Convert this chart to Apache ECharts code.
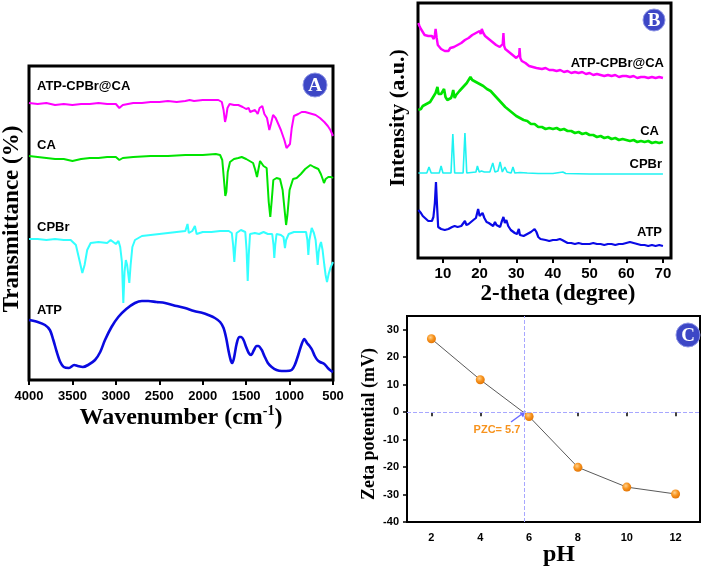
<!DOCTYPE html>
<html><head><meta charset="utf-8">
<script src="https://cdn.jsdelivr.net/npm/echarts@6/dist/echarts.min.js"></script>
<style>html,body{margin:0;padding:0;background:#fff}#c{width:707px;height:571px}</style>
</head><body><div id="c"></div><script>
// ---------- Panel A : FTIR (wavenumber, offset transmittance a.u.) ----------
const ftirTicks = [4000,3500,3000,2500,2000,1500,1000,500];
const ftirAtpCpbrCa = [[4000,277],[3900,276],[3800,277],[3700,275],[3600,276],[3500,275],[3400,276],[3300,276],[3200,277],[3100,276],[3000,276],[2960,272],[2920,275],[2800,277],[2700,277],[2600,278],[2500,278],[2400,279],[2300,278],[2200,279],[2150,280],[2100,279],[2000,280],[1900,280],[1820,280],[1780,278],[1760,270],[1743,258],[1730,263],[1715,272],[1690,276],[1640,275],[1590,275],[1540,273],[1500,271],[1470,272],[1455,268],[1436,268],[1398,270],[1367,266],[1345,272],[1314,274],[1290,266],[1260,262],[1233,250],[1215,256],[1190,265],[1160,262],[1140,260],[1100,250],[1060,240],[1035,232],[1014,230],[995,236],[975,252],[950,264],[900,266],[860,268],[820,268],[780,267],[740,266],[700,265],[650,262],[600,258],[560,254],[530,250],[500,244]];
const ftirCA = [[4000,224],[3900,223],[3800,222],[3700,221],[3600,221],[3500,219],[3400,221],[3300,222],[3200,222],[3100,223],[3000,223],[2960,220],[2920,222],[2800,223],[2600,224],[2400,224],[2200,225],[2000,225],[1850,226],[1800,225],[1775,220],[1755,200],[1740,184],[1728,188],[1712,208],[1686,218],[1640,221],[1590,222],[1551,223],[1500,221],[1420,217],[1395,210],[1375,203],[1360,210],[1340,219],[1321,219],[1300,214],[1264,212],[1240,178],[1222,163],[1205,180],[1187,200],[1150,202],[1110,201],[1080,190],[1055,168],[1040,155],[1025,165],[1000,190],[960,201],[918,202],[900,200],[870,206],[820,211],[760,215],[720,213],[669,211],[640,206],[615,200],[604,197],[585,201],[554,203],[520,203],[500,202]];
const ftirCPBr = [[4000,141],[3900,141],[3800,140],[3700,141],[3600,140],[3520,140],[3460,135],[3420,120],[3386,107],[3360,115],[3330,130],[3290,137],[3200,138],[3100,137],[3060,140],[3000,136],[2970,139],[2950,133],[2930,118],[2914,77],[2900,108],[2885,120],[2870,115],[2845,97],[2830,115],[2810,133],[2780,140],[2700,144],[2600,145],[2500,146],[2400,147],[2300,148],[2200,149],[2175,156],[2160,147],[2120,149],[2090,154],[2070,146],[2000,148],[1900,148],[1800,149],[1700,149],[1665,147],[1650,135],[1636,118],[1625,132],[1610,147],[1560,150],[1510,148],[1495,130],[1482,99],[1470,125],[1455,146],[1400,147],[1350,146],[1300,148],[1250,146],[1200,146],[1185,135],[1176,122],[1165,135],[1150,146],[1100,145],[1070,143],[1053,132],[1040,140],[1010,146],[950,148],[900,148],[860,148],[842,150],[810,148],[795,140],[784,125],[772,140],[745,152],[720,147],[700,140],[685,125],[676,115],[665,128],[650,135],[638,138],[620,130],[600,115],[585,105],[569,98],[550,106],[530,112],[515,113],[500,118]];
const ftirATP = [[4000,60],[3900,58],[3816,55],[3760,50],[3720,40],[3680,28],[3640,18],[3600,13],[3540,12],[3480,15],[3440,14],[3380,13],[3320,15],[3240,20],[3180,28],[3125,40],[3050,53],[2972,63],[2880,71],[2780,77],[2700,79],[2627,79],[2534,78],[2434,77],[2300,74],[2204,72],[2100,69],[2000,67],[1936,65],[1860,62],[1800,58],[1760,52],[1730,42],[1700,28],[1675,19],[1659,17],[1640,22],[1610,36],[1580,43],[1559,43],[1530,40],[1500,33],[1470,27],[1444,25],[1410,30],[1380,34],[1360,34],[1320,30],[1290,24],[1250,17],[1206,13],[1150,10],[1091,9],[1040,9],[976,10],[940,15],[900,25],[860,36],[830,41],[800,37],[770,34],[740,30],[710,24],[680,20],[650,18],[600,16],[560,12],[520,9],[500,8]];

// ---------- Panel B : XRD (2-theta, offset intensity a.u.) ----------
const xrdTicks = [10,20,30,40,50,60,70];
const xrdAtpCpbrCa = [[3.3,235],[3.6,232],[4,229],[4.5,226],[5,223],[5.5,221],[6,222],[6.5,220],[7,222],[7.5,219],[7.8,223],[8,229],[8.3,220],[8.6,213],[9,211],[9.5,209],[10,210],[10.5,207],[11,209],[11.5,207],[12,210],[12.5,208],[13,211],[13.5,209],[14,213],[14.5,211],[15,215],[15.5,213],[16,218],[16.5,216],[17,220],[17.5,219],[18,223],[18.5,221],[19,225],[19.5,223],[20,227],[20.3,224],[20.6,229],[21,225],[21.5,222],[22,223],[22.5,219],[23,220],[23.5,216],[24,217],[24.5,213],[25,214],[25.5,211],[26,212],[26.3,214],[26.5,225],[26.7,212],[27,209],[27.5,208],[28,206],[28.5,205],[29,203],[29.5,203],[30,200],[30.5,201],[30.8,203],[30.9,210],[31.1,200],[31.5,197],[32,197],[32.5,195],[33,195],[33.5,192],[34,193],[34.5,191],[35,192],[35.5,190],[36,191],[37,189],[38,190],[39,188],[40,188],[41,187],[42,188],[43,186],[44,187],[45,185],[46,186],[47,185],[48,186],[49,184],[50,185],[51,183],[52,184],[53,183],[54,182],[55,183],[56,182],[57,183],[58,181],[59,182],[60,182],[61,181],[62,182],[63,180],[64,181],[65,181],[66,180],[67,181],[68,180],[69,181],[70,180]];
const xrdCA = [[3.3,148],[3.7,150],[4,149],[4.5,152],[5,151],[5.5,154],[6,155],[6.5,156],[7,159],[7.5,162],[8,165],[8.5,171],[8.8,164],[9.1,162],[9.5,164],[10,166],[10.3,169],[10.7,161],[11.2,158],[11.7,156],[12.2,160],[12.5,163],[12.8,168],[13.2,160],[13.6,163],[14,165],[14.5,167],[15,169],[15.5,171],[16,173],[16.5,175],[17,177],[17.5,181],[18,178],[18.5,179],[19,176],[19.5,177],[20,174],[20.5,175],[21,172],[21.5,173],[22,169],[22.5,169],[23,167],[23.5,166],[24,163],[24.5,162],[25,159],[25.5,159],[26,155],[26.5,155],[27,151],[27.5,151],[28,148],[28.5,148],[29,145],[29.5,145],[30,142],[30.5,142],[31,140],[31.5,140],[32,138],[33,137],[34,134],[35,134],[36,131],[37,131],[38,129],[39,130],[40,129],[41,130],[42,128],[43,129],[44,127],[45,127],[46,125],[47,126],[48,124],[49,125],[50,123],[51,123],[52,121],[53,122],[54,120],[55,121],[56,119],[57,120],[58,118],[59,119],[60,118],[61,117],[62,118],[63,116],[64,117],[65,116],[66,117],[67,115],[68,116],[69,115],[70,116]];
const xrdCPBr = [[3.3,85],[5.6,85],[6.2,91],[6.8,85],[9.0,85],[9.5,92],[10.0,85],[12.2,85],[12.7,124],[13.2,85],[15.5,85],[16.0,125],[16.5,85],[19.0,86],[19.4,92],[19.9,86],[20.5,87],[20.8,89],[21.3,86],[22.8,86],[23.6,95],[24.2,86],[25.0,87],[25.6,96],[26.2,86],[26.9,91],[27.5,86],[28.6,85],[29.1,91],[29.6,85],[31,85.5],[33,85],[36,84.5],[40,84.5],[42.7,86],[43.5,84.5],[50,84],[60,84],[70,84]];
const xrdATP = [[3.3,48],[4,45],[4.5,42],[5.1,40],[5.5,38],[6,37],[6.5,35],[7,37],[7.4,41],[7.8,55],[8.1,76],[8.4,52],[8.7,31],[9,30],[9.5,29],[10,28],[10.5,28],[11,30],[11.5,29],[12,30],[12.5,31],[13.2,32],[13.6,33],[14,31],[14.5,30],[15,32],[15.5,34],[16,37],[16.4,33],[17,34],[17.5,35],[18.3,38],[19,40],[19.6,49],[20,42],[20.4,44],[20.8,45],[21.3,40],[21.9,36],[22.5,35],[23,34],[23.7,32],[24.2,36],[24.6,33],[25,31],[25.6,31],[26,36],[26.5,41],[26.9,35],[27.3,38],[27.8,32],[28.5,28],[29,26],[29.6,25],[30.2,24],[30.7,29],[31,23],[31.5,21],[32,22],[32.5,23],[33,24],[33.5,25],[34,26],[34.5,27],[35,29],[35.5,26],[36,21],[36.6,19],[37,18],[38,18],[39,17],[40,18],[41,18],[41.9,19],[42.5,18],[43,16],[44,15],[45,15],[46,14],[47,15],[48,14],[49,14],[50,14],[51,15],[52,14],[53,14],[54,13],[55,14],[56,14],[57,13],[58,14],[59,14],[60,15],[61,16],[62,15],[63,14],[64,13],[65,13],[66,12],[67,13],[68,12],[69,13],[70,12]];

// ---------- Panel C : zeta potential ----------
const phTicks = [2,4,6,8,10,12];
const zetaTicks = [-40,-30,-20,-10,0,10,20,30];
const phValues = [2,4,6,8,10,12];
const zetaValues = [26.7,11.8,-1.6,-20.1,-27.3,-29.8];
const pzcX = 5.8;

const SANS = 'Liberation Sans, Arial, sans-serif';
const SERIF = 'Liberation Serif, Times New Roman, serif';
const plain = v => String(v);
const tickLbl = (size, margin) => ({color:'#000', fontFamily:SANS, fontWeight:'bold', fontSize:size, margin:margin, formatter:plain});

const chart = echarts.init(document.getElementById('c'), null, {renderer:'canvas'});

function badge(cx, cy, r, letter){
  return {type:'group', x:cx, y:cy, children:[
    {type:'circle', shape:{cx:0, cy:0, r:r}, style:{fill:'#3d47c6', stroke:'#8f96e6', lineWidth:1}},
    {type:'text', style:{x:0, y:1, text:letter, fill:'#fff', font:'bold 19px '+SERIF, textAlign:'center', textVerticalAlign:'middle'}}
  ]};
}
function txt(x, y, s, opts){
  return Object.assign({type:'text', x:x, y:y, style:Object.assign({x:0,y:0,text:s,fill:'#000',font:'bold 13px '+SANS,textAlign:'left',textVerticalAlign:'middle'}, opts||{})});
}

const option = {
  backgroundColor:'#fff',
  animation:false,
  grid:[
    {left:29, top:66, width:304, height:314, show:true, borderColor:'#000', borderWidth:3, backgroundColor:'transparent'},
    {left:418, top:3, width:253, height:255, show:true, borderColor:'#000', borderWidth:3, backgroundColor:'transparent'},
    {left:407, top:316, width:293, height:206, show:true, borderColor:'#000', borderWidth:2, backgroundColor:'transparent'}
  ],
  xAxis:[
    {gridIndex:0, type:'value', min:500, max:4000, interval:500, inverse:true,
     axisLine:{show:false}, splitLine:{show:false},
     axisTick:{show:true, inside:false, length:5, lineStyle:{color:'#000', width:2}},
     axisLabel:tickLbl(13, 10)},
    {gridIndex:1, type:'value', min:3.2, max:72.2,
     axisLine:{show:false}, splitLine:{show:false},
     axisTick:{show:true, length:5, lineStyle:{color:'#000', width:2}, customValues:xrdTicks},
     axisLabel:Object.assign(tickLbl(15, 8), {customValues:xrdTicks})},
    {gridIndex:2, type:'value', min:1, max:13,
     axisLine:{show:false}, splitLine:{show:false},
     axisTick:{show:true, length:4, lineStyle:{color:'#000', width:1.5}, customValues:phTicks},
     axisLabel:Object.assign(tickLbl(11, 10), {customValues:phTicks})}
  ],
  yAxis:[
    {gridIndex:0, type:'value', min:0, max:314, axisLine:{show:false}, axisTick:{show:false}, axisLabel:{show:false}, splitLine:{show:false}},
    {gridIndex:1, type:'value', min:0, max:255, axisLine:{show:false}, axisTick:{show:false}, axisLabel:{show:false}, splitLine:{show:false}},
    {gridIndex:2, type:'value', min:-40, max:35, axisLine:{show:false}, splitLine:{show:false},
     axisTick:{show:true, length:4, lineStyle:{color:'#000', width:1.5}, customValues:zetaTicks},
     axisLabel:Object.assign(tickLbl(11, 8), {customValues:zetaTicks})}
  ],
  series:[
    {type:'line', xAxisIndex:0, yAxisIndex:0, data:ftirAtpCpbrCa, showSymbol:false, lineStyle:{color:'#ff00ff', width:2}},
    {type:'line', xAxisIndex:0, yAxisIndex:0, data:ftirCA, showSymbol:false, lineStyle:{color:'#00e400', width:2}},
    {type:'line', xAxisIndex:0, yAxisIndex:0, data:ftirCPBr, showSymbol:false, lineStyle:{color:'#33ffff', width:2}},
    {type:'line', xAxisIndex:0, yAxisIndex:0, data:ftirATP, showSymbol:false, smooth:0.3, lineStyle:{color:'#0a0ae0', width:2.6}},
    {type:'line', xAxisIndex:1, yAxisIndex:1, data:xrdAtpCpbrCa, showSymbol:false, lineStyle:{color:'#ff00ff', width:2.4}},
    {type:'line', xAxisIndex:1, yAxisIndex:1, data:xrdCA, showSymbol:false, lineStyle:{color:'#00e400', width:2.6}},
    {type:'line', xAxisIndex:1, yAxisIndex:1, data:xrdCPBr, showSymbol:false, lineStyle:{color:'#1ff2f2', width:1.6}},
    {type:'line', xAxisIndex:1, yAxisIndex:1, data:xrdATP, showSymbol:false, lineStyle:{color:'#0a0ae6', width:2.2}},
    {type:'line', xAxisIndex:2, yAxisIndex:2, data:phValues.map((p,i)=>[p, zetaValues[i]]),
     symbol:'circle', symbolSize:9,
     lineStyle:{color:'#5a5a5a', width:1},
     itemStyle:{color:{type:'radial', x:0.4, y:0.35, r:0.7, colorStops:[{offset:0,color:'#ffd08a'},{offset:0.5,color:'#f7931e'},{offset:1,color:'#e07000'}]}},
     markLine:{silent:true, symbol:['none','none'], label:{show:false},
       lineStyle:{type:'dashed', color:'#a7a7ff', width:1},
       data:[{xAxis:pzcX},{yAxis:0}]}}
  ],
  graphic:[
    // Panel A texts
    txt(37, 86.5, 'ATP-CPBr@CA'),
    txt(37, 145, 'CA'),
    txt(37, 227, 'CPBr'),
    txt(37, 310, 'ATP'),
    {type:'text', x:181, y:417, style:{x:0, y:0, text:'{a|Wavenumber (cm}{s|-1}{a|)}', textAlign:'center', textVerticalAlign:'middle',
       rich:{a:{font:'bold 24px '+SERIF, fill:'#000', lineHeight:26, verticalAlign:'bottom'}, s:{font:'bold 14px '+SERIF, fill:'#000', verticalAlign:'top', lineHeight:14}}}},
    {type:'text', x:12, y:219, rotation:Math.PI/2, style:{x:0, y:0, text:'Transmittance (%)', font:'bold 23px '+SERIF, fill:'#000', textAlign:'center', textVerticalAlign:'middle'}},
    badge(315, 85, 12, 'A'),
    // Panel B texts
    txt(664, 63, 'ATP-CPBr@CA', {textAlign:'right'}),
    txt(659, 131, 'CA', {textAlign:'right'}),
    txt(662, 164, 'CPBr', {textAlign:'right'}),
    txt(662, 232.5, 'ATP', {textAlign:'right'}),
    {type:'text', x:558, y:294, style:{x:0, y:0, text:'2-theta (degree)', font:'bold 23px '+SERIF, fill:'#000', textAlign:'center', textVerticalAlign:'middle'}},
    {type:'text', x:398, y:118, rotation:Math.PI/2, style:{x:0, y:0, text:'Intensity (a.u.)', font:'bold 22px '+SERIF, fill:'#000', textAlign:'center', textVerticalAlign:'middle'}},
    badge(654, 20, 11, 'B'),
    // Panel C texts
    {type:'text', x:559, y:555, style:{x:0, y:0, text:'pH', font:'bold 24px '+SERIF, fill:'#000', textAlign:'center', textVerticalAlign:'middle'}},
    {type:'text', x:369, y:424, rotation:Math.PI/2, style:{x:0, y:0, text:'Zeta potential (mV)', font:'bold 18px '+SERIF, fill:'#000', textAlign:'center', textVerticalAlign:'middle'}},
    {type:'text', x:497, y:430, style:{x:0, y:0, text:'PZC= 5.7', font:'bold 11px '+SANS, fill:'#f7931e', textAlign:'center', textVerticalAlign:'middle'}},
    {type:'line', shape:{x1:511, y1:422, x2:522, y2:414}, style:{stroke:'#6a6aff', lineWidth:1.5}},
    {type:'polygon', shape:{points:[[526,411],[519.5,412.5],[523,417.5]]}, style:{fill:'#6a6aff'}},
    badge(688, 335, 12, 'C')
  ]
};
chart.setOption(option);
</script></body></html>
